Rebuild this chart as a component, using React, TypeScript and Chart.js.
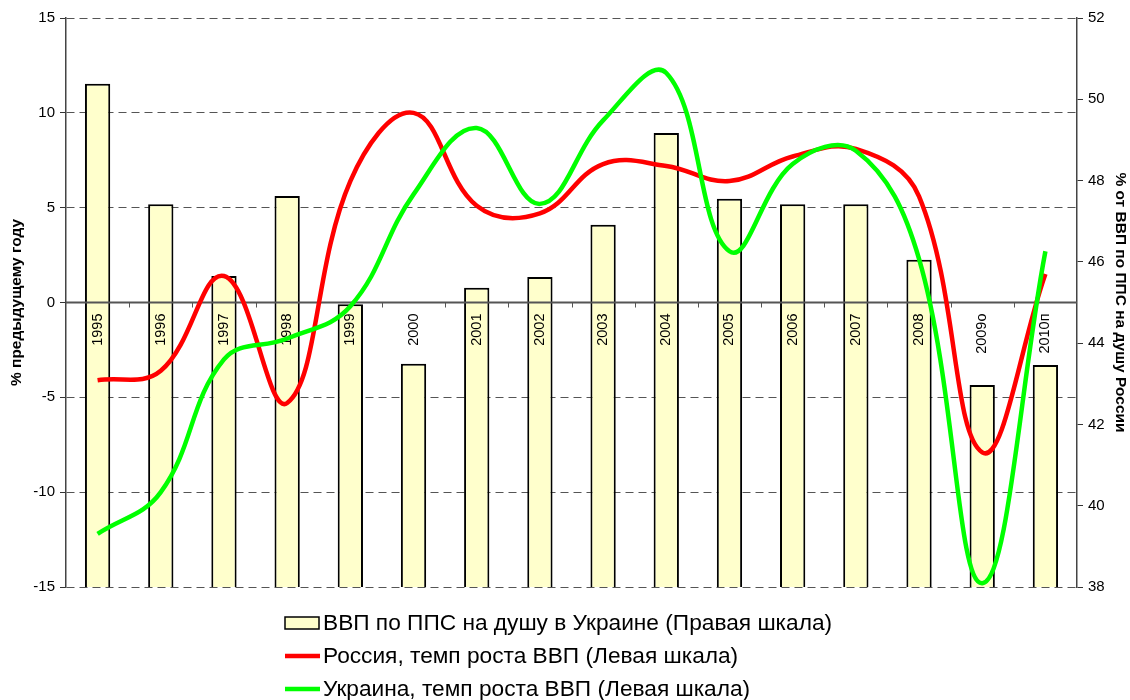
import { useEffect, useRef } from 'react';
import { Chart, registerables } from 'chart.js';

Chart.register(...registerables);

const categories = ['1995', '1996', '1997', '1998', '1999', '2000', '2001', '2002', '2003', '2004', '2005', '2006', '2007', '2008', '2009о', '2010п'];
const ukraineGdpPppShare = [50.38, 47.42, 45.65, 47.62, 44.96, 43.49, 45.36, 45.63, 46.91, 49.17, 47.55, 47.42, 47.42, 46.05, 42.97, 43.46];
const russiaGrowth = [-4.1, -3.6, 1.4, -5.3, 6.4, 10.0, 5.1, 4.7, 7.3, 7.2, 6.4, 7.7, 8.1, 5.6, -7.9, 1.5];
const ukraineGrowth = [-12.2, -10.0, -3.0, -1.9, -0.2, 5.7, 9.2, 5.2, 9.6, 12.1, 2.7, 7.3, 8.0, 2.3, -14.8, 2.7];

const leftTitle = '% предыдущему году';
const rightTitle = '% от ВВП по ППС на душу России';
const barLabel = 'ВВП по ППС на душу в Украине (Правая шкала)';
const russiaLabel = 'Россия, темп роста ВВП (Левая шкала)';
const ukraineLabel = 'Украина, темп роста ВВП (Левая шкала)';

const FONT = 'Arial, "Liberation Sans", sans-serif';

const axisPlugin = {
  id: 'zeroAxis',
  afterDatasetDraw(chart: any, args: any) {
    if (args.index !== 0) return;
    const { ctx, chartArea } = chart;
    const x = chart.scales.x;
    const y = chart.scales.y;
    const y0 = y.getPixelForValue(0);
    ctx.save();
    ctx.strokeStyle = '#555';
    ctx.lineWidth = 2;
    ctx.setLineDash([]);
    ctx.beginPath();
    ctx.moveTo(chartArea.left, y0);
    ctx.lineTo(chartArea.right, y0);
    ctx.stroke();
    ctx.lineWidth = 1;
    const n = categories.length;
    const step = (chartArea.right - chartArea.left) / n;
    ctx.beginPath();
    for (let i = 1; i < n; i++) {
      const xb = Math.round(x.getPixelForValue(i) - step / 2) + 0.5;
      ctx.moveTo(xb, y0);
      ctx.lineTo(xb, y0 + 5);
    }
    ctx.stroke();
    ctx.fillStyle = '#000';
    ctx.font = `14.5px ${FONT}`;
    ctx.textAlign = 'right';
    ctx.textBaseline = 'middle';
    for (let i = 0; i < n; i++) {
      const xc = x.getPixelForValue(i);
      ctx.save();
      ctx.translate(xc, y0 + 11);
      ctx.rotate(-Math.PI / 2);
      ctx.fillText(categories[i], 0, 0);
      ctx.restore();
    }
    ctx.restore();
  },
};

const legendPlugin = {
  id: 'colLegend',
  afterDraw(chart: any) {
    const { ctx } = chart;
    const ds = chart.data.datasets;
    const x0 = 285;
    const rows = [623, 656, 689];
    ctx.save();
    ctx.font = `22.7px ${FONT}`;
    ctx.textBaseline = 'middle';
    ctx.textAlign = 'left';
    ctx.fillStyle = ds[0].backgroundColor;
    ctx.fillRect(x0, rows[0] - 6, 34, 12);
    ctx.strokeStyle = '#000';
    ctx.lineWidth = 1.5;
    ctx.strokeRect(x0, rows[0] - 6, 34, 12);
    for (let i = 1; i < 3; i++) {
      ctx.strokeStyle = ds[i].borderColor;
      ctx.lineWidth = 4.5;
      ctx.beginPath();
      ctx.moveTo(x0, rows[i]);
      ctx.lineTo(x0 + 35, rows[i]);
      ctx.stroke();
    }
    ctx.fillStyle = '#000';
    for (let i = 0; i < 3; i++) {
      ctx.fillText(ds[i].label, x0 + 38, rows[i] + 1);
    }
    ctx.restore();
  },
};

export default function App() {
  const ref = useRef<HTMLCanvasElement>(null);
  useEffect(() => {
    document.body.style.margin = '0';
    const chart = new Chart(ref.current as HTMLCanvasElement, {
      type: 'bar',
      data: {
        labels: categories,
        datasets: [
          {
            type: 'bar',
            label: barLabel,
            data: ukraineGdpPppShare,
            yAxisID: 'y1',
            backgroundColor: '#FFFFCC',
            borderColor: '#000',
            borderWidth: 2,
            borderSkipped: false,
            barPercentage: 0.4,
            categoryPercentage: 1,
            order: 3,
          } as any,
          {
            type: 'line',
            label: russiaLabel,
            data: russiaGrowth,
            yAxisID: 'y',
            borderColor: '#FF0000',
            backgroundColor: '#FF0000',
            borderWidth: 4.5,
            pointRadius: 0,
            tension: 0.4,
            fill: false,
            clip: 8,
            order: 2,
          } as any,
          {
            type: 'line',
            label: ukraineLabel,
            data: ukraineGrowth,
            yAxisID: 'y',
            borderColor: '#00FF00',
            backgroundColor: '#00FF00',
            borderWidth: 4.5,
            pointRadius: 0,
            tension: 0.4,
            fill: false,
            clip: 8,
            order: 1,
          } as any,
        ],
      },
      options: {
        responsive: false,
        animation: false,
        devicePixelRatio: 1,
        layout: { padding: { top: 18, bottom: 113, left: 0, right: 0 } },
        plugins: { legend: { display: false }, tooltip: { enabled: false } },
        scales: {
          x: { display: false, offset: true },
          y: {
            position: 'left',
            min: -15,
            max: 15,
            afterFit: (s: any) => { s.width = 66; },
            ticks: { stepSize: 5, color: '#000', font: { size: 15, family: FONT }, padding: 5 },
            grid: { color: '#555', lineWidth: 1, tickLength: 6, tickColor: '#333', tickBorderDash: [] },
            border: { display: true, color: '#444', width: 1.5, dash: [8, 5] },
            title: { display: true, text: leftTitle, color: '#000', font: { size: 15.5, weight: 'bold', family: FONT }, padding: { top: 7.5, bottom: 0 } },
          },
          y1: {
            position: 'right',
            min: 38,
            max: 52,
            afterFit: (s: any) => { s.width = 53; },
            ticks: { stepSize: 2, color: '#000', font: { size: 15, family: FONT }, padding: 5 },
            grid: { drawOnChartArea: false, tickLength: 6, tickColor: '#333' },
            border: { display: true, color: '#444', width: 1.5 },
            title: { display: true, text: rightTitle, color: '#000', font: { size: 15.5, weight: 'bold', family: FONT }, padding: { top: 0, bottom: 0 } },
          },
        },
      } as any,
      plugins: [axisPlugin, legendPlugin],
    });
    return () => chart.destroy();
  }, []);
  return <canvas ref={ref} width={1130} height={700} style={{ display: 'block' }} />;
}
